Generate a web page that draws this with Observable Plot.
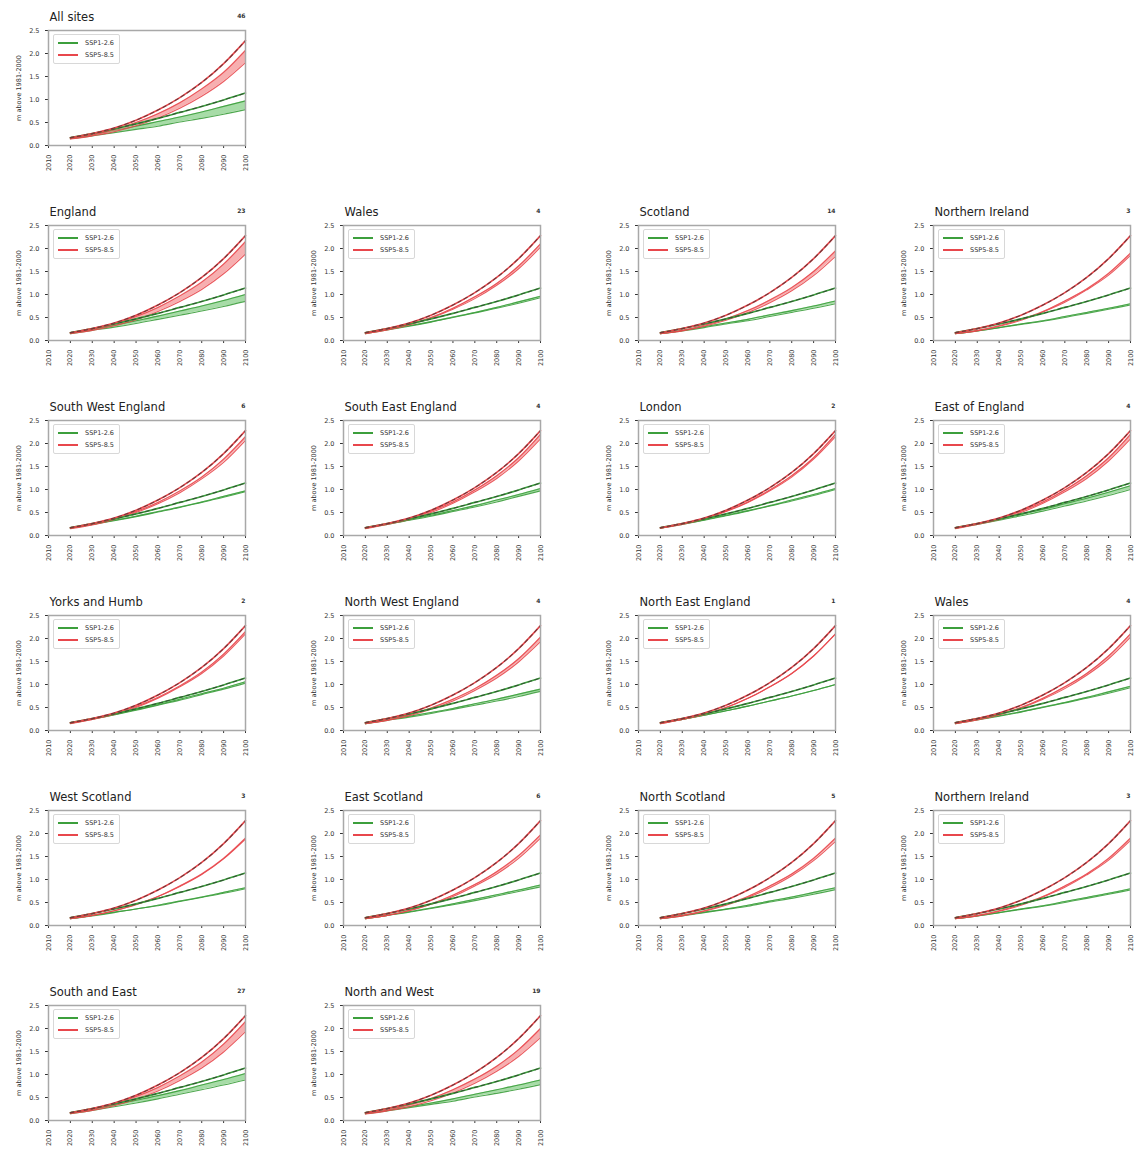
<!DOCTYPE html>
<html>
<head>
<meta charset="utf-8">
<script src="https://cdn.jsdelivr.net/npm/d3@7"></script>
<script src="https://cdn.jsdelivr.net/npm/@observablehq/plot@0.6"></script>
<style>
  html, body { margin: 0; padding: 0; background: #fff; }
  #chart { position: relative; width: 1137px; height: 1155px; font-family: "DejaVu Sans", sans-serif; }
  .panel { position: absolute; }
  .legend {
    position: absolute; left: 53px; top: 34px;
    border: 1px solid #d8d8d8; border-radius: 2px; background: rgba(255,255,255,0.85);
    padding: 2px 5px 2px 4px; font-size: 6.5px; color: #333; line-height: 12px;
  }
  .legend .row { display: flex; align-items: center; white-space: nowrap; }
  .legend .swatch { display: inline-block; width: 20px; height: 1.5px; margin-right: 7px; }
</style>
</head>
<body>
<div id="chart"></div>
<script>
// Decadal sea-level rise (m above 1981-2000) for each region group.
const years = [2020, 2030, 2040, 2050, 2060, 2070, 2080, 2090, 2100];
const xTicks = [2010, 2020, 2030, 2040, 2050, 2060, 2070, 2080, 2090, 2100];
const yTicks = [0, 0.5, 1.0, 1.5, 2.0, 2.5];
const scenarios = ["SSP1-2.6", "SSP5-8.5"];

const regions = [
  "All sites", "England", "Wales", "Scotland", "Northern Ireland",
  "South West England", "South East England", "London", "East of England",
  "Yorks and Humb", "North West England", "North East England", "Wales",
  "West Scotland", "East Scotland", "North Scotland", "Northern Ireland",
  "South and East", "North and West"
];
const siteCounts = [46, 23, 4, 14, 3, 6, 4, 2, 4, 2, 4, 1, 4, 3, 6, 5, 3, 27, 19];

// Global reference projections (dashed)
const ssp126Reference = [0.17, 0.26, 0.36, 0.47, 0.59, 0.72, 0.85, 0.99, 1.14];
const ssp585Reference = [0.17, 0.26, 0.38, 0.55, 0.77, 1.04, 1.37, 1.78, 2.28];

// Lowest and highest site in each group, SSP1-2.6
const ssp126Low = [
  [0.15,0.21,0.28,0.35,0.42,0.51,0.59,0.68,0.78],
  [0.15,0.22,0.29,0.37,0.46,0.55,0.64,0.74,0.85],
  [0.15,0.23,0.31,0.40,0.50,0.60,0.70,0.81,0.93],
  [0.15,0.21,0.28,0.36,0.43,0.52,0.61,0.70,0.80],
  [0.15,0.21,0.28,0.35,0.42,0.50,0.59,0.68,0.77],
  [0.16,0.24,0.32,0.41,0.51,0.61,0.72,0.83,0.95],
  [0.16,0.24,0.33,0.42,0.52,0.62,0.73,0.85,0.97],
  [0.16,0.24,0.33,0.43,0.53,0.64,0.75,0.87,1.00],
  [0.16,0.24,0.33,0.43,0.53,0.64,0.75,0.87,1.00],
  [0.16,0.25,0.34,0.44,0.55,0.66,0.78,0.90,1.03],
  [0.15,0.22,0.29,0.37,0.46,0.55,0.64,0.74,0.85],
  [0.16,0.24,0.33,0.43,0.53,0.64,0.75,0.87,1.00],
  [0.15,0.23,0.31,0.40,0.50,0.60,0.70,0.81,0.93],
  [0.15,0.21,0.28,0.36,0.43,0.52,0.61,0.70,0.80],
  [0.15,0.22,0.29,0.37,0.45,0.54,0.64,0.74,0.84],
  [0.15,0.21,0.28,0.35,0.42,0.51,0.59,0.68,0.78],
  [0.15,0.21,0.28,0.35,0.42,0.50,0.59,0.68,0.77],
  [0.15,0.22,0.30,0.38,0.47,0.57,0.67,0.77,0.88],
  [0.15,0.21,0.28,0.35,0.42,0.51,0.59,0.68,0.78]
];
const ssp126High = [
  [0.16,0.24,0.33,0.42,0.52,0.62,0.73,0.85,0.97],
  [0.16,0.24,0.33,0.43,0.53,0.64,0.75,0.87,1.00],
  [0.16,0.24,0.32,0.41,0.51,0.61,0.72,0.84,0.96],
  [0.15,0.22,0.30,0.38,0.46,0.56,0.65,0.75,0.86],
  [0.15,0.21,0.28,0.36,0.43,0.52,0.61,0.70,0.80],
  [0.16,0.24,0.33,0.42,0.52,0.62,0.73,0.85,0.97],
  [0.16,0.25,0.34,0.44,0.54,0.65,0.77,0.89,1.02],
  [0.16,0.25,0.34,0.44,0.54,0.65,0.77,0.89,1.02],
  [0.16,0.25,0.35,0.46,0.57,0.69,0.81,0.94,1.08],
  [0.16,0.25,0.35,0.45,0.56,0.68,0.80,0.92,1.06],
  [0.15,0.23,0.31,0.39,0.48,0.58,0.68,0.79,0.90],
  [0.16,0.24,0.33,0.43,0.53,0.64,0.75,0.87,1.00],
  [0.16,0.24,0.32,0.41,0.51,0.61,0.72,0.84,0.96],
  [0.15,0.22,0.29,0.36,0.44,0.53,0.62,0.72,0.82],
  [0.15,0.22,0.30,0.38,0.47,0.57,0.67,0.77,0.88],
  [0.15,0.22,0.29,0.36,0.44,0.53,0.62,0.72,0.82],
  [0.15,0.21,0.28,0.36,0.43,0.52,0.61,0.70,0.80],
  [0.16,0.25,0.34,0.44,0.54,0.65,0.77,0.89,1.02],
  [0.15,0.22,0.30,0.38,0.47,0.57,0.67,0.77,0.88]
];

// Lowest and highest site in each group, SSP5-8.5
const ssp585Low = [
  [0.14,0.21,0.30,0.43,0.60,0.81,1.07,1.39,1.80],
  [0.15,0.22,0.32,0.45,0.63,0.85,1.11,1.45,1.88],
  [0.15,0.23,0.34,0.49,0.68,0.91,1.20,1.56,2.03],
  [0.15,0.21,0.31,0.44,0.61,0.82,1.08,1.41,1.83],
  [0.15,0.21,0.31,0.44,0.62,0.83,1.10,1.42,1.85],
  [0.15,0.23,0.35,0.50,0.69,0.93,1.23,1.59,2.07],
  [0.15,0.24,0.35,0.50,0.70,0.95,1.24,1.62,2.10],
  [0.16,0.24,0.36,0.52,0.72,0.97,1.27,1.66,2.15],
  [0.15,0.24,0.35,0.50,0.70,0.95,1.24,1.62,2.10],
  [0.15,0.24,0.35,0.50,0.70,0.95,1.24,1.62,2.10],
  [0.15,0.22,0.32,0.46,0.64,0.87,1.14,1.49,1.93],
  [0.15,0.24,0.35,0.50,0.70,0.95,1.24,1.62,2.10],
  [0.15,0.23,0.34,0.49,0.68,0.91,1.20,1.56,2.03],
  [0.15,0.22,0.32,0.45,0.63,0.85,1.11,1.45,1.88],
  [0.15,0.22,0.32,0.46,0.63,0.86,1.12,1.46,1.90],
  [0.15,0.21,0.31,0.44,0.61,0.82,1.08,1.41,1.83],
  [0.15,0.21,0.31,0.44,0.62,0.83,1.10,1.42,1.85],
  [0.15,0.22,0.32,0.46,0.64,0.87,1.14,1.49,1.93],
  [0.14,0.21,0.30,0.43,0.60,0.81,1.07,1.39,1.80]
];
const ssp585High = [
  [0.15,0.23,0.35,0.50,0.69,0.93,1.23,1.59,2.07],
  [0.16,0.24,0.36,0.52,0.72,0.97,1.27,1.66,2.15],
  [0.15,0.24,0.35,0.50,0.70,0.95,1.24,1.62,2.10],
  [0.15,0.22,0.33,0.47,0.65,0.88,1.15,1.50,1.95],
  [0.15,0.22,0.32,0.46,0.63,0.86,1.12,1.46,1.90],
  [0.16,0.24,0.36,0.52,0.72,0.97,1.27,1.66,2.15],
  [0.16,0.25,0.37,0.53,0.73,0.99,1.30,1.69,2.20],
  [0.16,0.25,0.37,0.53,0.73,0.99,1.30,1.69,2.20],
  [0.16,0.25,0.37,0.53,0.73,0.99,1.30,1.69,2.20],
  [0.16,0.24,0.36,0.52,0.72,0.97,1.27,1.66,2.15],
  [0.15,0.23,0.34,0.49,0.68,0.91,1.20,1.56,2.03],
  [0.15,0.24,0.35,0.50,0.70,0.95,1.24,1.62,2.10],
  [0.15,0.24,0.35,0.50,0.70,0.95,1.24,1.62,2.10],
  [0.15,0.22,0.32,0.46,0.63,0.86,1.12,1.46,1.90],
  [0.15,0.22,0.33,0.47,0.66,0.89,1.17,1.52,1.97],
  [0.15,0.22,0.32,0.46,0.63,0.86,1.12,1.46,1.90],
  [0.15,0.22,0.32,0.46,0.63,0.86,1.12,1.46,1.90],
  [0.16,0.24,0.36,0.52,0.72,0.97,1.27,1.66,2.15],
  [0.15,0.23,0.34,0.48,0.67,0.90,1.18,1.54,2.00]
];

const green = "#3c9f3c", greenFill = "#6cc46c";
const red = "#e8474c", redFill = "#f27a7c";

const chart = document.getElementById("chart");
const panelW = 250, panelH = 177, colPitch = 295, rowPitch = 195;

const reference126 = years.map((year, k) => ({year, v: ssp126Reference[k]}));
const reference585 = years.map((year, k) => ({year, v: ssp585Reference[k]}));

regions.forEach((name, i) => {
  const row = i === 0 ? 0 : 1 + Math.floor((i - 1) / 4);
  const col = i === 0 ? 0 : (i - 1) % 4;

  const band126 = years.map((year, k) => ({year, lo: ssp126Low[i][k], hi: ssp126High[i][k]}));
  const band585 = years.map((year, k) => ({year, lo: ssp585Low[i][k], hi: ssp585High[i][k]}));
  const curve = "monotone-x";

  const plot = Plot.plot({
    width: panelW, height: panelH,
    marginLeft: 48, marginRight: 5, marginTop: 30, marginBottom: 32,
    style: {fontFamily: "DejaVu Sans, sans-serif", fontSize: "6.5px", color: "#333", background: "transparent"},
    x: {domain: [2010, 2100], ticks: xTicks, tickFormat: "d", tickRotate: -90, tickSize: 3, label: null},
    y: {domain: [0, 2.5], ticks: yTicks, tickFormat: ".1f", tickSize: 3,
        label: "m above 1981-2000", labelAnchor: "center", labelArrow: "none", labelOffset: 32},
    marks: [
      // SSP1-2.6 site envelope
      Plot.areaY(band126, {x: "year", y1: "lo", y2: "hi", fill: greenFill, fillOpacity: 0.6, curve}),
      Plot.line(band126, {x: "year", y: "lo", stroke: green, strokeWidth: 1.1, strokeOpacity: 0.9, curve}),
      Plot.line(band126, {x: "year", y: "hi", stroke: green, strokeWidth: 1.1, strokeOpacity: 0.9, curve}),
      // SSP5-8.5 site envelope
      Plot.areaY(band585, {x: "year", y1: "lo", y2: "hi", fill: redFill, fillOpacity: 0.6, curve}),
      Plot.line(band585, {x: "year", y: "lo", stroke: red, strokeWidth: 1.1, strokeOpacity: 0.9, curve}),
      Plot.line(band585, {x: "year", y: "hi", stroke: red, strokeWidth: 1.1, strokeOpacity: 0.9, curve}),
      // Global reference projections, dashed
      Plot.line(reference126, {x: "year", y: "v", stroke: green, strokeWidth: 1.6, curve}),
      Plot.line(reference126, {x: "year", y: "v", stroke: "#2a2a2a", strokeWidth: 1.2, strokeOpacity: 0.6, strokeDasharray: "3.5,3.5", curve}),
      Plot.line(reference585, {x: "year", y: "v", stroke: red, strokeWidth: 1.6, curve}),
      Plot.line(reference585, {x: "year", y: "v", stroke: "#2a2a2a", strokeWidth: 1.2, strokeOpacity: 0.6, strokeDasharray: "3.5,3.5", curve}),
      Plot.frame({stroke: "#a8a8a8", strokeWidth: 1.5}),
      // Panel title and site count
      Plot.text([name], {frameAnchor: "top-left", dy: -18, dx: 1, text: d => d, fontSize: 11.5, textAnchor: "start", fill: "#222"}),
      Plot.text([siteCounts[i]], {frameAnchor: "top-right", dy: -17, text: d => String(d), fontSize: 6, textAnchor: "end", fill: "#333", fontWeight: "bold"})
    ]
  });

  const panel = document.createElement("div");
  panel.className = "panel";
  panel.style.left = (col * colPitch) + "px";
  panel.style.top = (row * rowPitch) + "px";
  panel.appendChild(plot);

  const legend = document.createElement("div");
  legend.className = "legend";
  [[scenarios[0], green], [scenarios[1], red]].forEach(([label, color]) => {
    const r = document.createElement("div");
    r.className = "row";
    const sw = document.createElement("span");
    sw.className = "swatch";
    sw.style.background = color;
    r.appendChild(sw);
    r.appendChild(document.createTextNode(label));
    legend.appendChild(r);
  });
  panel.appendChild(legend);
  chart.appendChild(panel);
});
</script>
</body>
</html>
